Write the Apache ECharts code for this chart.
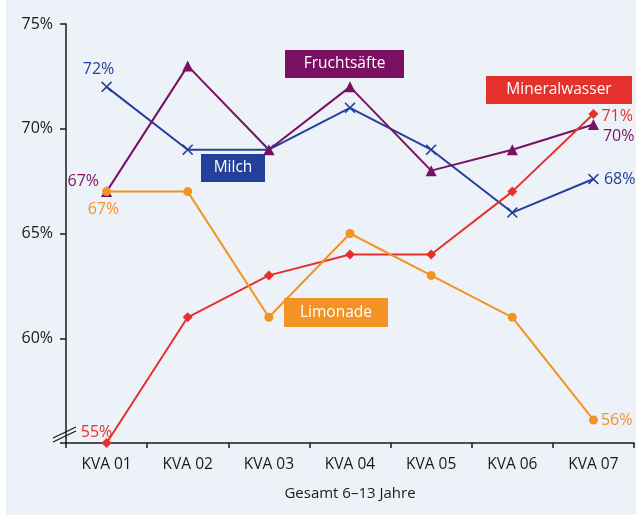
<!DOCTYPE html>
<html>
<head>
<meta charset="utf-8">
<script src="https://cdn.jsdelivr.net/npm/echarts@6/dist/echarts.min.js"></script>
<style>
html,body{margin:0;padding:0;background:#fff;}
#chart{width:636px;height:515px;}
</style>
</head>
<body>
<div id="chart"></div>
<script>
var categories = ['KVA 01','KVA 02','KVA 03','KVA 04','KVA 05','KVA 06','KVA 07'];
var milch = [72, 69, 69, 71, 69, 66, 67.6];
var fruchtsaefte = [67, 73, 69, 72, 68, 69, 70.2];
var mineralwasser = [55, 61, 63, 64, 64, 67, 70.7];
var limonade = [67, 67, 61, 65, 63, 61, 56.1];
var yTicks = [55, 60, 65, 70, 75];
var xTitle = 'Gesamt 6–13 Jahre';

var FONT = '"Open Sans", "Noto Sans", sans-serif';
var C_MILCH = '#25409a', C_FRUCHT = '#7a1062', C_MIN = '#e5312b', C_LIM = '#f39323';

function mk(values, color, labels) {
  return values.map(function (v, i) {
    var d = { value: v };
    if (labels[i]) {
      d.label = Object.assign({
        show: true, color: color, fontSize: 16, fontFamily: FONT,
        formatter: function () { return Math.round(v) + '%'; }
      }, labels[i]);
    }
    return d;
  });
}

var crossPath = 'path://M0,1L1,0L5,4L9,0L10,1L6,5L10,9L9,10L5,6L1,10L0,9L4,5Z';

var chart = echarts.init(document.getElementById('chart'), null, {renderer: 'canvas'});
chart.setOption({
  backgroundColor: '#ffffff',
  animation: false,
  grid: { left: 66, right: 2, top: 24, bottom: 72 },
  xAxis: {
    type: 'category', data: categories, boundaryGap: true,
    axisLine: { lineStyle: { color: '#1a1a1a', width: 1.5 } },
    axisTick: { show: true, length: 5, lineStyle: { color: '#1a1a1a', width: 1.5 } },
    axisLabel: { color: '#1a1a1a', fontSize: 15.5, fontFamily: FONT, margin: 14 },
    name: xTitle, nameLocation: 'middle', nameGap: 43,
    nameTextStyle: { color: '#1a1a1a', fontSize: 15, fontFamily: FONT }
  },
  yAxis: {
    type: 'value', min: yTicks[0], max: yTicks[yTicks.length-1], interval: 5,
    axisLine: { show: true, lineStyle: { color: '#1a1a1a', width: 1.5 } },
    axisTick: { show: true, length: 6, lineStyle: { color: '#1a1a1a', width: 1.5 } },
    splitLine: { show: false },
    axisLabel: { color: '#1a1a1a', fontSize: 16, fontFamily: FONT, margin: 13,
      formatter: function (v) { return v === yTicks[0] ? '' : v + '%'; } }
  },
  graphic: [
    { type: 'rect', z: -10, silent: true, shape: { x: 6, y: 0, width: 630, height: 515 }, style: { fill: '#edf2f9' } },
    { type: 'line', z: 100, shape: { x1: 53, y1: 438, x2: 76, y2: 427 }, style: { stroke: '#1a1a1a', lineWidth: 1.3 } },
    { type: 'line', z: 100, shape: { x1: 53, y1: 442, x2: 76, y2: 431 }, style: { stroke: '#1a1a1a', lineWidth: 1.3 } },
    { type: 'group', z: 100, children: [
      { type: 'rect', shape: { x: 285, y: 50, width: 119, height: 28 }, style: { fill: C_FRUCHT } },
      { type: 'text', x: 344.5, y: 64, style: { text: 'Fruchtsäfte', fill: '#fff', font: '15.5px ' + FONT, textAlign: 'center', textVerticalAlign: 'middle' } }
    ]},
    { type: 'group', z: 100, children: [
      { type: 'rect', shape: { x: 201, y: 154, width: 64, height: 28 }, style: { fill: C_MILCH } },
      { type: 'text', x: 233, y: 168, style: { text: 'Milch', fill: '#fff', font: '15.5px ' + FONT, textAlign: 'center', textVerticalAlign: 'middle' } }
    ]},
    { type: 'group', z: 100, children: [
      { type: 'rect', shape: { x: 486, y: 76, width: 146, height: 28 }, style: { fill: C_MIN } },
      { type: 'text', x: 559, y: 90, style: { text: 'Mineralwasser', fill: '#fff', font: '15.5px ' + FONT, textAlign: 'center', textVerticalAlign: 'middle' } }
    ]},
    { type: 'group', z: 100, children: [
      { type: 'rect', shape: { x: 284, y: 298, width: 104, height: 29 }, style: { fill: C_LIM } },
      { type: 'text', x: 336, y: 312.5, style: { text: 'Limonade', fill: '#fff', font: '15.5px ' + FONT, textAlign: 'center', textVerticalAlign: 'middle' } }
    ]}
  ],
  series: [
    { name: 'Milch', type: 'line', data: mk(milch, C_MILCH, {
        0: { position: 'top', offset: [-8, 1] },
        6: { position: 'right', distance: 5 } }),
      symbol: crossPath, symbolSize: 11, showAllSymbol: true,
      lineStyle: { color: C_MILCH, width: 2 }, itemStyle: { color: C_MILCH } },
    { name: 'Fruchtsäfte', type: 'line', data: mk(fruchtsaefte, C_FRUCHT, {
        0: { position: 'left', offset: [3, -10] },
        6: { position: 'right', offset: [-1, 12] } }),
      symbol: 'triangle', symbolSize: 11, showAllSymbol: true,
      lineStyle: { color: C_FRUCHT, width: 2 }, itemStyle: { color: C_FRUCHT } },
    { name: 'Mineralwasser', type: 'line', data: mk(mineralwasser, C_MIN, {
        0: { position: 'top', offset: [-10, 7] },
        6: { position: 'right', distance: 3, offset: [0, 2] } }),
      symbol: 'diamond', symbolSize: 10, showAllSymbol: true,
      lineStyle: { color: C_MIN, width: 2 }, itemStyle: { color: C_MIN } },
    { name: 'Limonade', type: 'line', data: mk(limonade, C_LIM, {
        0: { position: 'bottom', offset: [-3, 0] },
        6: { position: 'right', distance: 3 } }),
      symbol: 'circle', symbolSize: 9, showAllSymbol: true,
      lineStyle: { color: C_LIM, width: 2 }, itemStyle: { color: C_LIM } }
  ]
});
</script>
</body>
</html>
